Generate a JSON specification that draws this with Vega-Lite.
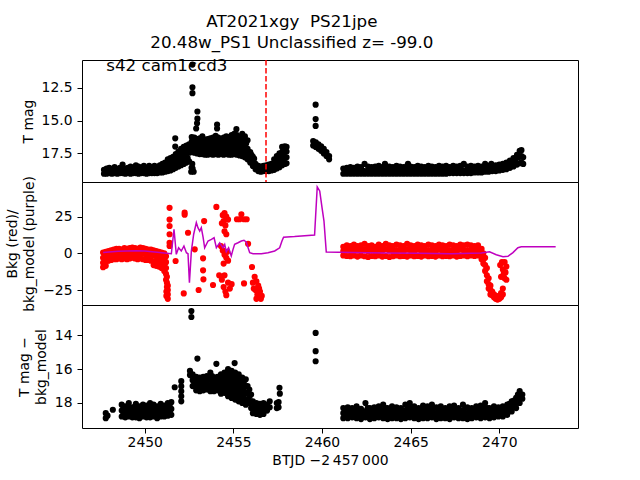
{
"$schema": "https://vega.github.io/schema/vega-lite/v6.json",
"background": "white",
"padding": {"left": 5, "top": 14, "right": 5, "bottom": 5},
"bounds": "flush",
"title": {"text": ["AT2021xgy\u00a0 PS21jpe", "20.48w_PS1 Unclassified z= -99.0"], "font": "DejaVu Sans", "fontSize": 16.7, "fontWeight": "normal", "color": "black", "anchor": "middle", "lineHeight": 20.5, "offset": 6},
"config": {
 "view": {"stroke": "black", "strokeWidth": 1},
 "font": "DejaVu Sans",
 "axis": {"labelFont": "DejaVu Sans", "labelFontSize": 13.9, "labelColor": "black", "titleFont": "DejaVu Sans", "titleFontSize": 13.9, "titleFontWeight": "normal", "titleColor": "black", "tickColor": "black", "tickSize": 5, "domain": false, "grid": false, "labelPadding": 5, "titlePadding": 5, "titleLineHeight": 17}
},
"spacing": 0,
"datasets": {
"top": [
{"t":2447.70,"m":19.05},{"t":2447.70,"m":18.75},{"t":2447.85,"m":19.05},{"t":2447.85,"m":18.65},{"t":2448.00,"m":19.00},{"t":2448.00,"m":18.60},{"t":2448.15,"m":19.05},{"t":2448.15,"m":18.70},{"t":2448.30,"m":19.00},{"t":2448.30,"m":18.55},{"t":2448.45,"m":19.05},{"t":2448.45,"m":18.70},{"t":2448.60,"m":19.00},{"t":2448.60,"m":18.60},{"t":2448.75,"m":19.00},{"t":2448.75,"m":18.35},{"t":2448.90,"m":19.05},{"t":2448.90,"m":18.65},{"t":2449.05,"m":19.00},{"t":2449.05,"m":18.60},{"t":2449.20,"m":19.05},{"t":2449.20,"m":18.50},{"t":2449.35,"m":19.00},{"t":2449.35,"m":18.65},{"t":2449.50,"m":19.00},{"t":2449.50,"m":18.40},{"t":2449.65,"m":19.05},{"t":2449.65,"m":18.50},{"t":2449.80,"m":19.00},{"t":2449.80,"m":18.60},{"t":2449.95,"m":19.00},{"t":2449.95,"m":18.45},{"t":2450.10,"m":19.05},{"t":2450.10,"m":18.60},{"t":2450.25,"m":19.00},{"t":2450.25,"m":18.45},{"t":2450.40,"m":19.00},{"t":2450.40,"m":18.60},{"t":2450.55,"m":19.00},{"t":2450.55,"m":18.45},{"t":2450.70,"m":19.00},{"t":2450.70,"m":18.55},{"t":2450.85,"m":18.95},{"t":2450.85,"m":18.40},{"t":2451.00,"m":18.95},{"t":2451.00,"m":18.30},{"t":2451.15,"m":18.90},{"t":2451.15,"m":18.20},{"t":2451.30,"m":18.85},{"t":2451.30,"m":18.35},{"t":2451.30,"m":17.95},
{"t":2447.78,"m":18.85},{"t":2447.93,"m":18.82},{"t":2448.08,"m":18.8},{"t":2448.23,"m":18.82},{"t":2448.38,"m":18.78},{"t":2448.53,"m":18.85},{"t":2448.68,"m":18.8},{"t":2448.83,"m":18.75},{"t":2448.98,"m":18.82},{"t":2449.13,"m":18.8},{"t":2449.28,"m":18.78},{"t":2449.43,"m":18.82},{"t":2449.58,"m":18.72},{"t":2449.73,"m":18.78},{"t":2449.88,"m":18.8},{"t":2450.03,"m":18.75},{"t":2450.18,"m":18.82},{"t":2450.33,"m":18.75},{"t":2450.48,"m":18.8},{"t":2450.63,"m":18.75},{"t":2450.78,"m":18.78},{"t":2450.93,"m":18.7},{"t":2451.08,"m":18.62},{"t":2451.23,"m":18.55},
{"t":2451.45,"m":18.80},{"t":2451.45,"m":18.30},{"t":2451.45,"m":17.85},{"t":2451.60,"m":18.70},{"t":2451.60,"m":18.20},{"t":2451.60,"m":17.75},{"t":2451.72,"m":16.35},{"t":2451.72,"m":16.98},{"t":2451.75,"m":18.60},{"t":2451.75,"m":18.05},{"t":2451.75,"m":17.55},{"t":2451.90,"m":18.50},{"t":2451.90,"m":17.90},{"t":2451.90,"m":17.35},{"t":2452.05,"m":18.40},{"t":2452.05,"m":17.75},{"t":2452.05,"m":17.15},{"t":2452.20,"m":18.30},{"t":2452.20,"m":17.65},{"t":2452.20,"m":17.00},{"t":2452.35,"m":18.20},{"t":2452.35,"m":17.55},{"t":2452.35,"m":16.90},{"t":2452.50,"m":18.10},{"t":2452.50,"m":17.45},{"t":2452.50,"m":16.80},
{"t":2451.52,"m":18.55},{"t":2451.67,"m":18.45},{"t":2451.82,"m":18.3},{"t":2451.82,"m":17.8},{"t":2451.97,"m":18.2},{"t":2451.97,"m":17.6},{"t":2452.12,"m":18.05},{"t":2452.12,"m":17.45},{"t":2452.27,"m":17.95},{"t":2452.27,"m":17.3},{"t":2452.42,"m":17.85},{"t":2452.42,"m":17.2},
{"t":2452.62,"m":18.90},{"t":2452.68,"m":18.30},{"t":2452.70,"m":18.65},{"t":2452.76,"m":18.90},{"t":2452.64,"m":18.60},
{"t":2452.69,"m":10.72},{"t":2452.69,"m":12.45},{"t":2452.69,"m":12.90},{"t":2452.97,"m":14.30},{"t":2452.97,"m":14.85},{"t":2452.95,"m":15.20},{"t":2452.90,"m":15.60},
{"t":2452.65,"m":17.40},{"t":2452.65,"m":17.00},{"t":2452.65,"m":16.60},{"t":2452.65,"m":16.25},
{"t":2452.80,"m":17.45},{"t":2452.80,"m":17.05},{"t":2452.80,"m":16.65},{"t":2452.80,"m":16.30},
{"t":2452.95,"m":17.50},{"t":2452.95,"m":17.10},{"t":2452.95,"m":16.70},{"t":2452.95,"m":16.40},
{"t":2453.10,"m":17.55},{"t":2453.10,"m":17.15},{"t":2453.10,"m":16.75},{"t":2453.10,"m":16.35},
{"t":2453.25,"m":17.55},{"t":2453.25,"m":17.15},{"t":2453.25,"m":16.75},{"t":2453.25,"m":16.20},
{"t":2453.40,"m":17.60},{"t":2453.40,"m":17.20},{"t":2453.40,"m":16.80},{"t":2453.40,"m":16.45},
{"t":2453.55,"m":17.60},{"t":2453.55,"m":17.20},{"t":2453.55,"m":16.80},{"t":2453.55,"m":16.40},
{"t":2453.70,"m":17.55},{"t":2453.70,"m":17.15},{"t":2453.70,"m":16.75},{"t":2453.70,"m":16.35},
{"t":2453.85,"m":17.60},{"t":2453.85,"m":17.20},{"t":2453.85,"m":16.80},{"t":2453.85,"m":16.30},
{"t":2454.00,"m":17.55},{"t":2454.00,"m":17.15},{"t":2454.00,"m":16.75},{"t":2454.00,"m":16.15},
{"t":2454.08,"m":15.30},{"t":2454.08,"m":15.60},
{"t":2454.15,"m":17.60},{"t":2454.15,"m":17.20},{"t":2454.15,"m":16.80},{"t":2454.15,"m":16.30},
{"t":2454.30,"m":17.55},{"t":2454.30,"m":17.15},{"t":2454.30,"m":16.75},{"t":2454.30,"m":16.40},
{"t":2454.45,"m":17.60},{"t":2454.45,"m":17.20},{"t":2454.45,"m":16.80},{"t":2454.45,"m":16.30},
{"t":2454.60,"m":17.55},{"t":2454.60,"m":17.15},{"t":2454.60,"m":16.75},{"t":2454.60,"m":16.20},
{"t":2454.75,"m":17.60},{"t":2454.75,"m":17.20},{"t":2454.75,"m":16.80},{"t":2454.75,"m":16.25},
{"t":2454.90,"m":17.60},{"t":2454.90,"m":17.20},{"t":2454.90,"m":16.80},{"t":2454.90,"m":16.10},
{"t":2455.05,"m":17.55},{"t":2455.05,"m":17.15},{"t":2455.05,"m":16.75},{"t":2455.05,"m":16.00},
{"t":2455.17,"m":15.65},
{"t":2455.20,"m":17.60},{"t":2455.20,"m":17.20},{"t":2455.20,"m":16.80},{"t":2455.20,"m":16.10},
{"t":2455.35,"m":17.65},{"t":2455.35,"m":17.25},{"t":2455.35,"m":16.85},{"t":2455.35,"m":16.25},
{"t":2455.50,"m":17.70},{"t":2455.50,"m":17.30},{"t":2455.50,"m":16.90},{"t":2455.50,"m":16.00},
{"t":2455.65,"m":17.80},{"t":2455.65,"m":17.40},{"t":2455.65,"m":17.00},{"t":2455.65,"m":16.20},
{"t":2455.80,"m":17.95},{"t":2455.80,"m":17.55},{"t":2455.80,"m":17.15},{"t":2455.80,"m":16.50},
{"t":2452.72,"m":17.2},{"t":2452.72,"m":16.8},{"t":2452.72,"m":16.45},{"t":2452.87,"m":17.25},{"t":2452.87,"m":16.85},{"t":2452.87,"m":16.5},{"t":2453.02,"m":17.3},{"t":2453.02,"m":16.9},{"t":2453.02,"m":16.55},{"t":2453.17,"m":17.35},{"t":2453.17,"m":16.95},{"t":2453.17,"m":16.55},{"t":2453.32,"m":17.35},{"t":2453.32,"m":16.95},{"t":2453.32,"m":16.5},{"t":2453.47,"m":17.4},{"t":2453.47,"m":17.0},{"t":2453.47,"m":16.6},{"t":2453.62,"m":17.4},{"t":2453.62,"m":17.0},{"t":2453.62,"m":16.6},{"t":2453.77,"m":17.35},{"t":2453.77,"m":16.95},{"t":2453.77,"m":16.55},{"t":2453.92,"m":17.4},{"t":2453.92,"m":17.0},{"t":2453.92,"m":16.55},{"t":2454.07,"m":17.35},{"t":2454.07,"m":16.95},{"t":2454.07,"m":16.45},{"t":2454.22,"m":17.4},{"t":2454.22,"m":17.0},{"t":2454.22,"m":16.55},{"t":2454.37,"m":17.35},{"t":2454.37,"m":16.95},{"t":2454.37,"m":16.55},{"t":2454.52,"m":17.4},{"t":2454.52,"m":17.0},{"t":2454.52,"m":16.55},{"t":2454.67,"m":17.35},{"t":2454.67,"m":16.95},{"t":2454.67,"m":16.45},{"t":2454.82,"m":17.4},{"t":2454.82,"m":17.0},{"t":2454.82,"m":16.5},{"t":2454.97,"m":17.4},{"t":2454.97,"m":17.0},{"t":2454.97,"m":16.4},{"t":2455.12,"m":17.35},{"t":2455.12,"m":16.95},{"t":2455.12,"m":16.4},{"t":2455.27,"m":17.4},{"t":2455.27,"m":17.0},{"t":2455.27,"m":16.5},{"t":2455.42,"m":17.45},{"t":2455.42,"m":17.05},{"t":2455.42,"m":16.5},{"t":2455.57,"m":17.55},{"t":2455.57,"m":17.15},{"t":2455.57,"m":16.6},{"t":2455.72,"m":17.7},{"t":2455.72,"m":17.3},{"t":2455.72,"m":16.75},{"t":2455.87,"m":17.95},{"t":2455.87,"m":17.6},
{"t":2455.95,"m":18.20},{"t":2455.95,"m":17.80},{"t":2455.95,"m":17.40},
{"t":2456.10,"m":18.45},{"t":2456.10,"m":18.05},{"t":2456.10,"m":17.75},
{"t":2456.25,"m":18.70},{"t":2456.25,"m":18.30},{"t":2456.40,"m":18.85},{"t":2456.40,"m":18.45},{"t":2456.55,"m":18.90},{"t":2456.55,"m":18.50},{"t":2456.70,"m":18.85},{"t":2456.70,"m":18.45},{"t":2456.85,"m":18.85},{"t":2456.85,"m":18.40},{"t":2457.00,"m":18.85},{"t":2457.00,"m":18.35},{"t":2457.15,"m":18.80},{"t":2457.15,"m":18.30},
{"t":2456.02,"m":18.0},{"t":2456.02,"m":17.6},{"t":2456.17,"m":18.25},{"t":2456.17,"m":17.9},{"t":2456.32,"m":18.5},{"t":2456.47,"m":18.65},{"t":2456.62,"m":18.7},{"t":2456.77,"m":18.65},{"t":2456.92,"m":18.62},{"t":2457.07,"m":18.6},{"t":2457.22,"m":18.55},
{"t":2457.30,"m":18.75},{"t":2457.30,"m":18.25},{"t":2457.30,"m":17.95},{"t":2457.45,"m":18.65},{"t":2457.45,"m":18.15},{"t":2457.45,"m":17.70},{"t":2457.60,"m":18.55},{"t":2457.60,"m":18.05},{"t":2457.60,"m":17.50},{"t":2457.75,"m":18.40},{"t":2457.75,"m":17.90},{"t":2457.75,"m":17.40},{"t":2457.75,"m":17.00},{"t":2457.90,"m":18.30},{"t":2457.90,"m":17.85},{"t":2457.90,"m":17.40},{"t":2457.90,"m":16.95},{"t":2458.00,"m":18.25},{"t":2458.00,"m":17.80},{"t":2458.00,"m":17.35},{"t":2458.00,"m":17.00},
{"t":2457.37,"m":18.5},{"t":2457.52,"m":18.4},{"t":2457.52,"m":17.9},{"t":2457.67,"m":18.3},{"t":2457.67,"m":17.75},{"t":2457.82,"m":18.15},{"t":2457.82,"m":17.65},{"t":2457.82,"m":17.2},
{"t":2459.64,"m":13.78},{"t":2459.64,"m":14.88},{"t":2459.64,"m":15.40},
{"t":2459.50,"m":16.55},{"t":2459.50,"m":16.90},{"t":2459.65,"m":16.65},{"t":2459.65,"m":17.00},{"t":2459.80,"m":16.80},{"t":2459.80,"m":17.15},{"t":2459.95,"m":16.95},{"t":2459.95,"m":17.30},{"t":2460.10,"m":17.15},{"t":2460.10,"m":17.50},{"t":2460.25,"m":17.40},{"t":2460.25,"m":17.70},{"t":2460.40,"m":17.70},{"t":2460.40,"m":17.95},
{"t":2461.2,"m":19.05},{"t":2461.2,"m":18.65},{"t":2461.4,"m":19.05},{"t":2461.4,"m":18.60},{"t":2461.6,"m":19.05},{"t":2461.6,"m":18.55},{"t":2461.8,"m":19.05},{"t":2461.8,"m":18.60},{"t":2462.0,"m":19.05},{"t":2462.0,"m":18.50},{"t":2462.2,"m":19.05},{"t":2462.2,"m":18.55},{"t":2462.4,"m":19.05},{"t":2462.4,"m":18.30},{"t":2462.6,"m":19.05},{"t":2462.6,"m":18.50},{"t":2462.8,"m":19.05},{"t":2462.8,"m":18.55},{"t":2463.0,"m":19.05},{"t":2463.0,"m":18.50},{"t":2463.2,"m":19.05},{"t":2463.2,"m":18.45},{"t":2463.4,"m":19.05},{"t":2463.4,"m":18.55},{"t":2463.55,"m":18.30},{"t":2463.6,"m":19.05},{"t":2463.6,"m":18.45},{"t":2463.8,"m":19.05},{"t":2463.8,"m":18.50},{"t":2464.0,"m":19.05},{"t":2464.0,"m":18.55},{"t":2464.2,"m":19.05},{"t":2464.2,"m":18.45},{"t":2464.4,"m":19.05},{"t":2464.4,"m":18.50},{"t":2464.6,"m":19.05},{"t":2464.6,"m":18.55},{"t":2464.8,"m":19.05},{"t":2464.8,"m":18.45},{"t":2464.85,"m":18.30},{"t":2465.0,"m":19.05},{"t":2465.0,"m":18.50},{"t":2465.2,"m":19.05},{"t":2465.2,"m":18.55},{"t":2465.4,"m":19.05},{"t":2465.4,"m":18.45},{"t":2465.6,"m":19.05},{"t":2465.6,"m":18.50},{"t":2465.8,"m":19.05},{"t":2465.8,"m":18.55},{"t":2466.0,"m":19.05},{"t":2466.0,"m":18.45},{"t":2466.2,"m":19.05},{"t":2466.2,"m":18.50},{"t":2466.4,"m":19.05},{"t":2466.4,"m":18.55},{"t":2466.6,"m":19.05},{"t":2466.6,"m":18.45},{"t":2466.8,"m":19.05},{"t":2466.8,"m":18.50},{"t":2467.0,"m":19.05},{"t":2467.0,"m":18.45},{"t":2467.2,"m":19.00},{"t":2467.2,"m":18.55},{"t":2467.4,"m":19.00},{"t":2467.4,"m":18.45},{"t":2467.6,"m":19.00},{"t":2467.6,"m":18.50},{"t":2467.8,"m":19.00},{"t":2467.8,"m":18.45},{"t":2468.0,"m":19.00},{"t":2468.0,"m":18.30},{"t":2468.2,"m":19.00},{"t":2468.2,"m":18.50},{"t":2468.4,"m":19.00},{"t":2468.4,"m":18.45},{"t":2468.6,"m":18.95},{"t":2468.6,"m":18.50},{"t":2468.8,"m":18.95},{"t":2468.8,"m":18.45},{"t":2469.0,"m":18.95},{"t":2469.0,"m":18.50},{"t":2469.2,"m":18.90},{"t":2469.2,"m":18.30},{"t":2469.4,"m":18.90},{"t":2469.4,"m":18.45},{"t":2469.55,"m":18.30},{"t":2469.6,"m":18.85},{"t":2469.6,"m":18.45},{"t":2469.8,"m":18.85},{"t":2469.8,"m":18.40},{"t":2470.0,"m":18.80},{"t":2470.0,"m":18.35},{"t":2470.2,"m":18.75},{"t":2470.2,"m":18.30},{"t":2470.4,"m":18.70},{"t":2470.4,"m":18.20},{"t":2470.6,"m":18.60},{"t":2470.6,"m":18.05},{"t":2470.8,"m":18.50},{"t":2470.8,"m":17.85},{"t":2471.0,"m":18.35},{"t":2471.0,"m":17.60},{"t":2471.15,"m":18.25},{"t":2471.15,"m":17.30},{"t":2471.25,"m":18.20},{"t":2471.25,"m":17.25},{"t":2471.25,"m":17.70},{"t":2471.35,"m":18.30},{"t":2471.35,"m":17.80},
{"t":2461.3,"m":18.85},{"t":2461.5,"m":18.8},{"t":2461.7,"m":18.85},{"t":2461.9,"m":18.8},{"t":2462.1,"m":18.85},{"t":2462.3,"m":18.8},{"t":2462.5,"m":18.85},{"t":2462.7,"m":18.8},{"t":2462.9,"m":18.85},{"t":2463.1,"m":18.8},{"t":2463.3,"m":18.85},{"t":2463.5,"m":18.8},{"t":2463.7,"m":18.85},{"t":2463.9,"m":18.8},{"t":2464.1,"m":18.85},{"t":2464.3,"m":18.8},{"t":2464.5,"m":18.85},{"t":2464.7,"m":18.8},{"t":2464.9,"m":18.85},{"t":2465.1,"m":18.8},{"t":2465.3,"m":18.85},{"t":2465.5,"m":18.8},{"t":2465.7,"m":18.85},{"t":2465.9,"m":18.8},{"t":2466.1,"m":18.85},{"t":2466.3,"m":18.8},{"t":2466.5,"m":18.85},{"t":2466.7,"m":18.8},{"t":2466.9,"m":18.85},{"t":2467.1,"m":18.8},{"t":2467.3,"m":18.8},{"t":2467.5,"m":18.75},{"t":2467.7,"m":18.8},{"t":2467.9,"m":18.75},{"t":2468.1,"m":18.8},{"t":2468.3,"m":18.75},{"t":2468.5,"m":18.75},{"t":2468.7,"m":18.7},{"t":2468.9,"m":18.75},{"t":2469.1,"m":18.7},{"t":2469.3,"m":18.7},{"t":2469.5,"m":18.65},{"t":2469.7,"m":18.65},{"t":2469.9,"m":18.6},{"t":2470.1,"m":18.55},{"t":2470.3,"m":18.5},{"t":2470.5,"m":18.4},{"t":2470.7,"m":18.25},{"t":2470.9,"m":18.05},{"t":2471.1,"m":17.8}
],
"bkg": [
{"t":2447.65,"b":0.5},{"t":2447.65,"b":-3},{"t":2447.65,"b":-6.5},{"t":2447.65,"b":-9.5},
{"t":2447.8,"b":1.0},{"t":2447.8,"b":-2.5},{"t":2447.8,"b":-6},{"t":2447.8,"b":-8.5},
{"t":2447.95,"b":1.5},{"t":2447.95,"b":-2},{"t":2447.95,"b":-5},
{"t":2448.1,"b":2.0},{"t":2448.1,"b":-1.5},{"t":2448.1,"b":-4.5},
{"t":2448.25,"b":2.5},{"t":2448.25,"b":-1},{"t":2448.25,"b":-4},
{"t":2448.4,"b":3.0},{"t":2448.4,"b":-0.5},{"t":2448.4,"b":-4},
{"t":2448.55,"b":3.0},{"t":2448.55,"b":-0.5},{"t":2448.55,"b":-3.5},
{"t":2448.7,"b":2.5},{"t":2448.7,"b":-1},{"t":2448.7,"b":-4},
{"t":2448.85,"b":3.5},{"t":2448.85,"b":0},{"t":2448.85,"b":-3.5},
{"t":2449.0,"b":3.0},{"t":2449.0,"b":-0.5},{"t":2449.0,"b":-4},
{"t":2449.15,"b":3.5},{"t":2449.15,"b":0},{"t":2449.15,"b":-3.5},
{"t":2449.3,"b":4.0},{"t":2449.3,"b":0.5},{"t":2449.3,"b":-3},
{"t":2449.45,"b":3.5},{"t":2449.45,"b":0},{"t":2449.45,"b":-3.5},
{"t":2449.6,"b":3.0},{"t":2449.6,"b":-0.5},{"t":2449.6,"b":-4},
{"t":2449.75,"b":4.0},{"t":2449.75,"b":0},{"t":2449.75,"b":-3.5},
{"t":2449.9,"b":3.5},{"t":2449.9,"b":0},{"t":2449.9,"b":-4},
{"t":2450.05,"b":3.0},{"t":2450.05,"b":-0.5},{"t":2450.05,"b":-4.5},
{"t":2450.2,"b":2.5},{"t":2450.2,"b":-1},{"t":2450.2,"b":-4.5},
{"t":2450.35,"b":2.5},{"t":2450.35,"b":-1},{"t":2450.35,"b":-5},
{"t":2450.5,"b":2.0},{"t":2450.5,"b":-1.5},{"t":2450.5,"b":-5.5},{"t":2450.5,"b":-8},
{"t":2450.65,"b":1.5},{"t":2450.65,"b":-2},{"t":2450.65,"b":-5.5},{"t":2450.65,"b":-8.5},
{"t":2450.8,"b":1.0},{"t":2450.8,"b":-2.5},{"t":2450.8,"b":-6},{"t":2450.8,"b":-9},
{"t":2450.95,"b":0.5},{"t":2450.95,"b":-3},{"t":2450.95,"b":-6.5},{"t":2450.95,"b":-10},
{"t":2451.1,"b":0},{"t":2451.1,"b":-4},{"t":2451.1,"b":-8},{"t":2451.1,"b":-12},
{"t":2451.2,"b":-2},{"t":2451.2,"b":-6},{"t":2451.2,"b":-10},{"t":2451.2,"b":-14},{"t":2451.2,"b":-18},
{"t":2451.25,"b":-16},{"t":2451.25,"b":-20},{"t":2451.25,"b":-23},
{"t":2451.3,"b":-22},{"t":2451.3,"b":-25},{"t":2451.3,"b":-28},{"t":2451.3,"b":-31},
{"t":2451.22,"b":-26},{"t":2451.22,"b":-29},
{"t":2451.4,"b":31},{"t":2451.4,"b":23},{"t":2451.4,"b":18.6},{"t":2451.4,"b":13},{"t":2451.4,"b":7.2},{"t":2451.4,"b":5},
{"t":2451.74,"b":-5.2},
{"t":2452.25,"b":27.7},{"t":2452.25,"b":26.3},{"t":2452.2,"b":-27.3},
{"t":2452.44,"b":14},{"t":2452.82,"b":2.7},
{"t":2453.29,"b":-3.4},{"t":2453.29,"b":-11.6},{"t":2453.31,"b":-17.7},
{"t":2453.35,"b":22},{"t":2453.04,"b":-25},{"t":2453.85,"b":-21.6},{"t":2454.04,"b":31.6},
{"t":2454.4,"b":26},{"t":2454.5,"b":27.5},{"t":2454.6,"b":25},{"t":2454.45,"b":22},{"t":2454.7,"b":23},{"t":2454.55,"b":19},{"t":2454.35,"b":20.5},{"t":2454.5,"b":15},{"t":2454.6,"b":13},
{"t":2454.3,"b":5},{"t":2454.4,"b":2},{"t":2454.5,"b":-1},{"t":2454.6,"b":-3},{"t":2454.7,"b":-5},{"t":2454.45,"b":-7},{"t":2454.65,"b":1},
{"t":2454.2,"b":-15},{"t":2454.35,"b":-18},{"t":2454.45,"b":-23},{"t":2454.55,"b":-26},{"t":2454.6,"b":-28.5},{"t":2454.7,"b":-20},{"t":2454.8,"b":-24},{"t":2454.5,"b":-15},{"t":2454.9,"b":-21},
{"t":2455.2,"b":23.2},{"t":2455.35,"b":23.2},{"t":2455.6,"b":23.2},{"t":2455.75,"b":23.2},{"t":2455.45,"b":26.6},
{"t":2455.83,"b":6.5},{"t":2456.05,"b":-9.3},{"t":2455.6,"b":-20.5},
{"t":2456.2,"b":-16},{"t":2456.3,"b":-19},{"t":2456.4,"b":-22},{"t":2456.25,"b":-25},{"t":2456.35,"b":-28},{"t":2456.45,"b":-30},{"t":2456.5,"b":-26},{"t":2456.55,"b":-31},{"t":2456.1,"b":-20},{"t":2456.15,"b":-24},{"t":2456.6,"b":-29},{"t":2456.3,"b":-31},{"t":2456.45,"b":-24},
{"t":2461.2,"b":4.5},{"t":2461.2,"b":1.5},{"t":2461.2,"b":-1.5},
{"t":2461.4,"b":5.5},{"t":2461.4,"b":2.0},{"t":2461.4,"b":-1.8},
{"t":2461.6,"b":5.0},{"t":2461.6,"b":1.5},{"t":2461.6,"b":-2.0},
{"t":2461.8,"b":6.0},{"t":2461.8,"b":2.5},{"t":2461.8,"b":-1.5},
{"t":2462.0,"b":5.0},{"t":2462.0,"b":1.8},{"t":2462.0,"b":-2.2},
{"t":2462.2,"b":5.5},{"t":2462.2,"b":2.0},{"t":2462.2,"b":-1.5},
{"t":2462.4,"b":6.5},{"t":2462.4,"b":2.5},{"t":2462.4,"b":-2.0},
{"t":2462.6,"b":5.0},{"t":2462.6,"b":1.5},{"t":2462.6,"b":-2.5},
{"t":2462.8,"b":5.5},{"t":2462.8,"b":2.0},{"t":2462.8,"b":-1.8},
{"t":2463.0,"b":4.5},{"t":2463.0,"b":1.2},{"t":2463.0,"b":-2.0},
{"t":2463.2,"b":6.0},{"t":2463.2,"b":2.5},{"t":2463.2,"b":-1.5},
{"t":2463.4,"b":5.0},{"t":2463.4,"b":1.8},{"t":2463.4,"b":-2.2},
{"t":2463.6,"b":6.5},{"t":2463.6,"b":2.8},{"t":2463.6,"b":-1.8},
{"t":2463.8,"b":5.5},{"t":2463.8,"b":2.0},{"t":2463.8,"b":-2.5},
{"t":2464.0,"b":5.0},{"t":2464.0,"b":1.5},{"t":2464.0,"b":-2.0},
{"t":2464.2,"b":6.0},{"t":2464.2,"b":2.2},{"t":2464.2,"b":-1.5},
{"t":2464.4,"b":5.5},{"t":2464.4,"b":2.0},{"t":2464.4,"b":-2.0},
{"t":2464.6,"b":5.0},{"t":2464.6,"b":1.5},{"t":2464.6,"b":-1.8},
{"t":2464.8,"b":6.5},{"t":2464.8,"b":2.5},{"t":2464.8,"b":-2.2},
{"t":2465.0,"b":5.5},{"t":2465.0,"b":2.0},{"t":2465.0,"b":-1.5},
{"t":2465.2,"b":5.0},{"t":2465.2,"b":1.5},{"t":2465.2,"b":-2.0},
{"t":2465.4,"b":6.0},{"t":2465.4,"b":2.5},{"t":2465.4,"b":-1.8},
{"t":2465.6,"b":5.5},{"t":2465.6,"b":2.0},{"t":2465.6,"b":-2.2},
{"t":2465.8,"b":5.0},{"t":2465.8,"b":1.8},{"t":2465.8,"b":-1.5},
{"t":2466.0,"b":6.0},{"t":2466.0,"b":2.2},{"t":2466.0,"b":-2.0},
{"t":2466.2,"b":5.5},{"t":2466.2,"b":2.0},{"t":2466.2,"b":-1.8},
{"t":2466.4,"b":5.0},{"t":2466.4,"b":1.5},{"t":2466.4,"b":-2.2},
{"t":2466.6,"b":6.0},{"t":2466.6,"b":2.5},{"t":2466.6,"b":-1.5},
{"t":2466.8,"b":5.5},{"t":2466.8,"b":1.8},{"t":2466.8,"b":-2.0},
{"t":2467.0,"b":5.0},{"t":2467.0,"b":1.5},{"t":2467.0,"b":-1.8},
{"t":2467.2,"b":6.0},{"t":2467.2,"b":2.2},{"t":2467.2,"b":-2.0},
{"t":2467.4,"b":5.5},{"t":2467.4,"b":2.0},{"t":2467.4,"b":-1.5},
{"t":2467.6,"b":5.0},{"t":2467.6,"b":1.5},{"t":2467.6,"b":-2.2},
{"t":2467.8,"b":6.0},{"t":2467.8,"b":2.5},{"t":2467.8,"b":-1.8},
{"t":2468.0,"b":5.5},{"t":2468.0,"b":2.0},{"t":2468.0,"b":-1.5},
{"t":2468.2,"b":6.0},{"t":2468.2,"b":2.2},{"t":2468.2,"b":-2.0},
{"t":2468.4,"b":5.5},{"t":2468.4,"b":1.8},{"t":2468.4,"b":-1.5},
{"t":2468.6,"b":5.0},{"t":2468.6,"b":1.5},{"t":2468.6,"b":-1.8},
{"t":2468.8,"b":5.5},{"t":2468.8,"b":2.0},{"t":2468.8,"b":-1.5},
{"t":2469.0,"b":3},{"t":2469.0,"b":-1},{"t":2469.0,"b":-4},
{"t":2469.1,"b":0},{"t":2469.1,"b":-4},{"t":2469.1,"b":-7},
{"t":2469.2,"b":-3},{"t":2469.2,"b":-8},{"t":2469.2,"b":-12},
{"t":2469.3,"b":-10},{"t":2469.3,"b":-15},{"t":2469.3,"b":-19},
{"t":2469.4,"b":-17},{"t":2469.4,"b":-21},{"t":2469.4,"b":-24},
{"t":2469.5,"b":-22},{"t":2469.5,"b":-25},{"t":2469.5,"b":-28},
{"t":2469.6,"b":-26},{"t":2469.6,"b":-28.5},
{"t":2469.7,"b":-28},{"t":2469.7,"b":-30},
{"t":2469.8,"b":-29},{"t":2469.8,"b":-31},
{"t":2469.9,"b":-30},{"t":2469.9,"b":-31.5},
{"t":2470.0,"b":-29},{"t":2470.0,"b":-31},
{"t":2470.1,"b":-27},{"t":2470.1,"b":-30},
{"t":2470.2,"b":-24},{"t":2470.2,"b":-28},
{"t":2470.05,"b":-8},{"t":2470.15,"b":-6},{"t":2470.2,"b":-11},{"t":2470.25,"b":-14},{"t":2470.3,"b":-17},{"t":2470.35,"b":-13},{"t":2470.4,"b":-9},{"t":2470.1,"b":-16},{"t":2470.3,"b":-6},{"t":2470.4,"b":-18}
],
"model": [
{"t":2447.65,"v":0.5},{"t":2448.5,"v":1.5},{"t":2449.5,"v":1.8},{"t":2450.0,"v":1.6},{"t":2450.7,"v":0.8},{"t":2451.5,"v":-0.3},
{"t":2451.65,"v":16.4},{"t":2451.78,"v":-0.7},{"t":2451.91,"v":3.8},{"t":2452.06,"v":1.6},{"t":2452.21,"v":5.0},{"t":2452.35,"v":0.4},{"t":2452.44,"v":-0.3},{"t":2452.52,"v":-20},{"t":2452.63,"v":1.6},{"t":2452.76,"v":13},{"t":2452.91,"v":20.9},{"t":2453.0,"v":17.5},{"t":2453.1,"v":15.2},{"t":2453.19,"v":17.5},{"t":2453.29,"v":11},{"t":2453.38,"v":3.8},{"t":2453.57,"v":8.4},{"t":2453.76,"v":9.5},{"t":2453.91,"v":10.6},{"t":2454.04,"v":3.8},{"t":2454.23,"v":7.2},{"t":2454.41,"v":3.8},{"t":2454.51,"v":6.1},{"t":2454.6,"v":1.1},{"t":2454.73,"v":3.8},{"t":2454.88,"v":-1.8},{"t":2454.98,"v":2.7},{"t":2455.07,"v":6.1},{"t":2455.26,"v":7.2},{"t":2455.45,"v":8.4},{"t":2455.6,"v":8.9},{"t":2455.73,"v":7.6},{"t":2455.83,"v":3.8},{"t":2455.92,"v":0.4},{"t":2456.11,"v":-0.3},{"t":2456.58,"v":-0.3},{"t":2456.95,"v":0.4},{"t":2457.33,"v":1.6},{"t":2457.61,"v":3.8},{"t":2457.74,"v":8.4},{"t":2457.83,"v":11},{"t":2458.45,"v":11.4},{"t":2459.58,"v":12.5},
{"t":2459.73,"v":45.2},{"t":2459.87,"v":42.5},{"t":2460.0,"v":31.1},{"t":2460.11,"v":22},{"t":2460.24,"v":0.9},
{"t":2461.65,"v":0.5},{"t":2463.53,"v":0.2},{"t":2465.41,"v":0.0},{"t":2467.29,"v":-0.3},{"t":2468.98,"v":0.2},{"t":2469.45,"v":1.0},{"t":2469.83,"v":-1.0},{"t":2470.21,"v":-2.3},{"t":2470.49,"v":-2.0},{"t":2470.77,"v":0.5},{"t":2471.05,"v":3.8},{"t":2471.24,"v":4.5},{"t":2473.18,"v":4.5}
],
"diff": [
{"t":2447.8,"d":18.6},{"t":2447.8,"d":18.9},{"t":2447.9,"d":18.75},{"t":2448.2,"d":18.4},
{"t":2448.7,"d":18.1},{"t":2448.7,"d":18.45},{"t":2448.7,"d":18.8},
{"t":2448.9,"d":18.2},{"t":2448.9,"d":18.5},{"t":2448.9,"d":18.85},
{"t":2449.1,"d":18.0},{"t":2449.1,"d":18.4},{"t":2449.1,"d":18.8},
{"t":2449.3,"d":18.25},{"t":2449.3,"d":18.55},{"t":2449.3,"d":18.85},
{"t":2449.5,"d":18.05},{"t":2449.5,"d":18.45},{"t":2449.5,"d":18.85},
{"t":2449.7,"d":18.2},{"t":2449.7,"d":18.5},{"t":2449.7,"d":18.9},
{"t":2449.9,"d":18.1},{"t":2449.9,"d":18.45},{"t":2449.9,"d":18.8},
{"t":2450.1,"d":18.15},{"t":2450.1,"d":18.5},{"t":2450.1,"d":18.85},
{"t":2450.3,"d":18.0},{"t":2450.3,"d":18.4},{"t":2450.3,"d":18.85},
{"t":2450.5,"d":18.1},{"t":2450.5,"d":18.45},{"t":2450.5,"d":18.8},
{"t":2450.7,"d":18.2},{"t":2450.7,"d":18.5},{"t":2450.7,"d":18.9},
{"t":2450.9,"d":18.05},{"t":2450.9,"d":18.4},{"t":2450.9,"d":18.8},
{"t":2451.1,"d":18.15},{"t":2451.1,"d":18.45},{"t":2451.1,"d":18.8},
{"t":2451.3,"d":18.0},{"t":2451.3,"d":18.4},{"t":2451.3,"d":18.75},
{"t":2451.5,"d":17.95},{"t":2451.5,"d":18.35},{"t":2451.5,"d":18.7},
{"t":2448.8,"d":18.3},{"t":2448.8,"d":18.65},{"t":2449.0,"d":18.25},{"t":2449.0,"d":18.6},{"t":2449.2,"d":18.3},{"t":2449.2,"d":18.7},{"t":2449.4,"d":18.25},{"t":2449.4,"d":18.65},{"t":2449.6,"d":18.3},{"t":2449.6,"d":18.7},{"t":2449.8,"d":18.3},{"t":2449.8,"d":18.65},{"t":2450.0,"d":18.3},{"t":2450.0,"d":18.7},{"t":2450.2,"d":18.25},{"t":2450.2,"d":18.65},{"t":2450.4,"d":18.25},{"t":2450.4,"d":18.65},{"t":2450.6,"d":18.3},{"t":2450.6,"d":18.65},{"t":2450.8,"d":18.25},{"t":2450.8,"d":18.65},{"t":2451.0,"d":18.3},{"t":2451.0,"d":18.65},{"t":2451.2,"d":18.2},{"t":2451.2,"d":18.6},{"t":2451.4,"d":18.15},{"t":2451.4,"d":18.55},
{"t":2451.69,"d":17.07},
{"t":2452.06,"d":16.71},{"t":2452.06,"d":17.01},{"t":2452.06,"d":17.31},{"t":2452.06,"d":17.6},{"t":2452.06,"d":17.9},
{"t":2452.63,"d":12.56},{"t":2452.63,"d":12.91},{"t":2452.97,"d":15.37},{"t":2454.04,"d":15.68},{"t":2455.07,"d":15.64},
{"t":2452.55,"d":16.1},{"t":2452.55,"d":16.35},
{"t":2452.7,"d":16.3},{"t":2452.7,"d":16.65},{"t":2452.7,"d":17.0},
{"t":2452.9,"d":16.45},{"t":2452.9,"d":16.85},{"t":2452.9,"d":17.25},
{"t":2453.1,"d":16.5},{"t":2453.1,"d":16.9},{"t":2453.1,"d":17.3},
{"t":2453.3,"d":16.45},{"t":2453.3,"d":16.85},{"t":2453.3,"d":17.25},
{"t":2453.5,"d":16.4},{"t":2453.5,"d":16.8},{"t":2453.5,"d":17.2},
{"t":2453.7,"d":16.2},{"t":2453.7,"d":16.6},{"t":2453.7,"d":17.0},{"t":2453.7,"d":17.3},
{"t":2453.9,"d":16.5},{"t":2453.9,"d":16.9},{"t":2453.9,"d":17.3},
{"t":2454.1,"d":16.45},{"t":2454.1,"d":16.85},{"t":2454.1,"d":17.25},
{"t":2454.3,"d":16.3},{"t":2454.3,"d":16.7},{"t":2454.3,"d":17.1},{"t":2454.3,"d":17.45},
{"t":2454.5,"d":16.2},{"t":2454.5,"d":16.6},{"t":2454.5,"d":17.0},{"t":2454.5,"d":17.4},
{"t":2454.7,"d":16.0},{"t":2454.7,"d":16.4},{"t":2454.7,"d":16.8},{"t":2454.7,"d":17.2},{"t":2454.7,"d":17.6},
{"t":2454.9,"d":16.1},{"t":2454.9,"d":16.5},{"t":2454.9,"d":16.9},{"t":2454.9,"d":17.3},{"t":2454.9,"d":17.7},
{"t":2455.1,"d":16.2},{"t":2455.1,"d":16.6},{"t":2455.1,"d":17.0},{"t":2455.1,"d":17.4},{"t":2455.1,"d":17.8},
{"t":2455.3,"d":16.3},{"t":2455.3,"d":16.7},{"t":2455.3,"d":17.1},{"t":2455.3,"d":17.5},{"t":2455.3,"d":17.9},
{"t":2455.5,"d":16.5},{"t":2455.5,"d":16.9},{"t":2455.5,"d":17.3},{"t":2455.5,"d":17.7},{"t":2455.5,"d":18.0},
{"t":2455.7,"d":16.6},{"t":2455.7,"d":17.0},{"t":2455.7,"d":17.4},{"t":2455.7,"d":17.8},{"t":2455.7,"d":18.1},
{"t":2455.9,"d":17.2},{"t":2455.9,"d":17.6},{"t":2455.9,"d":18.0},
{"t":2452.8,"d":16.5},{"t":2452.8,"d":16.85},{"t":2453.0,"d":16.65},{"t":2453.0,"d":17.05},{"t":2453.2,"d":16.7},{"t":2453.2,"d":17.1},{"t":2453.4,"d":16.65},{"t":2453.4,"d":17.05},{"t":2453.6,"d":16.6},{"t":2453.6,"d":17.0},{"t":2453.8,"d":16.4},{"t":2453.8,"d":16.8},{"t":2453.8,"d":17.15},{"t":2454.0,"d":16.7},{"t":2454.0,"d":17.1},{"t":2454.2,"d":16.65},{"t":2454.2,"d":17.05},{"t":2454.4,"d":16.5},{"t":2454.4,"d":16.9},{"t":2454.4,"d":17.25},{"t":2454.6,"d":16.4},{"t":2454.6,"d":16.8},{"t":2454.6,"d":17.2},{"t":2454.8,"d":16.2},{"t":2454.8,"d":16.6},{"t":2454.8,"d":17.0},{"t":2454.8,"d":17.4},{"t":2455.0,"d":16.3},{"t":2455.0,"d":16.7},{"t":2455.0,"d":17.1},{"t":2455.0,"d":17.5},{"t":2455.2,"d":16.4},{"t":2455.2,"d":16.8},{"t":2455.2,"d":17.2},{"t":2455.2,"d":17.6},{"t":2455.4,"d":16.5},{"t":2455.4,"d":16.9},{"t":2455.4,"d":17.3},{"t":2455.4,"d":17.7},{"t":2455.6,"d":16.7},{"t":2455.6,"d":17.1},{"t":2455.6,"d":17.5},{"t":2455.6,"d":17.9},{"t":2455.8,"d":17.0},{"t":2455.8,"d":17.4},{"t":2455.8,"d":17.8},{"t":2456.0,"d":17.5},{"t":2456.0,"d":17.9},{"t":2456.0,"d":18.3},{"t":2456.2,"d":18.15},{"t":2456.2,"d":18.5},{"t":2456.4,"d":18.2},{"t":2456.4,"d":18.55},{"t":2456.6,"d":18.2},{"t":2456.6,"d":18.55},{"t":2456.8,"d":18.25},
{"t":2456.1,"d":17.9},{"t":2456.1,"d":18.3},{"t":2456.1,"d":18.6},
{"t":2456.3,"d":18.0},{"t":2456.3,"d":18.35},{"t":2456.3,"d":18.65},
{"t":2456.5,"d":18.05},{"t":2456.5,"d":18.4},{"t":2456.5,"d":18.7},
{"t":2456.7,"d":18.0},{"t":2456.7,"d":18.35},{"t":2456.7,"d":18.65},
{"t":2456.9,"d":18.1},{"t":2456.9,"d":18.45},
{"t":2457.05,"d":17.9},{"t":2457.05,"d":18.25},
{"t":2457.45,"d":18.0},{"t":2457.45,"d":18.3},{"t":2457.55,"d":17.95},{"t":2457.55,"d":18.25},
{"t":2457.6,"d":17.1},{"t":2457.62,"d":17.45},
{"t":2459.64,"d":13.85},{"t":2459.64,"d":14.93},{"t":2459.64,"d":15.53},
{"t":2461.2,"d":18.3},{"t":2461.2,"d":18.6},{"t":2461.2,"d":18.9},
{"t":2461.45,"d":18.25},{"t":2461.45,"d":18.55},{"t":2461.45,"d":18.9},
{"t":2461.7,"d":18.3},{"t":2461.7,"d":18.6},{"t":2461.7,"d":18.85},
{"t":2461.95,"d":18.2},{"t":2461.95,"d":18.55},{"t":2461.95,"d":18.9},
{"t":2462.2,"d":18.35},{"t":2462.2,"d":18.65},{"t":2462.2,"d":18.95},
{"t":2462.45,"d":18.0},{"t":2462.45,"d":18.5},{"t":2462.45,"d":18.85},
{"t":2462.7,"d":18.3},{"t":2462.7,"d":18.6},{"t":2462.7,"d":18.95},
{"t":2462.95,"d":18.25},{"t":2462.95,"d":18.55},{"t":2462.95,"d":18.9},
{"t":2463.2,"d":18.2},{"t":2463.2,"d":18.6},{"t":2463.2,"d":18.85},
{"t":2463.45,"d":18.1},{"t":2463.45,"d":18.5},{"t":2463.45,"d":18.9},
{"t":2463.7,"d":18.3},{"t":2463.7,"d":18.6},{"t":2463.7,"d":18.95},
{"t":2463.95,"d":18.2},{"t":2463.95,"d":18.55},{"t":2463.95,"d":18.9},
{"t":2464.2,"d":18.25},{"t":2464.2,"d":18.6},{"t":2464.2,"d":18.9},
{"t":2464.45,"d":18.3},{"t":2464.45,"d":18.6},{"t":2464.45,"d":18.95},
{"t":2464.7,"d":18.1},{"t":2464.7,"d":18.5},{"t":2464.7,"d":18.9},
{"t":2464.95,"d":18.0},{"t":2464.95,"d":18.45},{"t":2464.95,"d":18.85},
{"t":2465.2,"d":18.2},{"t":2465.2,"d":18.55},{"t":2465.2,"d":18.9},
{"t":2465.45,"d":18.3},{"t":2465.45,"d":18.6},{"t":2465.45,"d":18.95},
{"t":2465.7,"d":18.15},{"t":2465.7,"d":18.55},{"t":2465.7,"d":18.9},
{"t":2465.95,"d":18.2},{"t":2465.95,"d":18.6},{"t":2465.95,"d":18.9},
{"t":2466.2,"d":18.1},{"t":2466.2,"d":18.5},{"t":2466.2,"d":18.85},
{"t":2466.45,"d":18.25},{"t":2466.45,"d":18.6},{"t":2466.45,"d":18.95},
{"t":2466.7,"d":18.2},{"t":2466.7,"d":18.55},{"t":2466.7,"d":18.9},
{"t":2466.95,"d":18.3},{"t":2466.95,"d":18.6},{"t":2466.95,"d":18.9},
{"t":2467.2,"d":18.2},{"t":2467.2,"d":18.55},{"t":2467.2,"d":18.95},
{"t":2467.45,"d":18.15},{"t":2467.45,"d":18.5},{"t":2467.45,"d":18.85},
{"t":2467.7,"d":18.3},{"t":2467.7,"d":18.6},{"t":2467.7,"d":18.9},
{"t":2467.95,"d":18.1},{"t":2467.95,"d":18.5},{"t":2467.95,"d":18.9},
{"t":2468.2,"d":18.25},{"t":2468.2,"d":18.6},{"t":2468.2,"d":18.95},
{"t":2468.45,"d":18.3},{"t":2468.45,"d":18.6},{"t":2468.45,"d":18.9},
{"t":2468.7,"d":18.2},{"t":2468.7,"d":18.55},{"t":2468.7,"d":18.85},
{"t":2468.95,"d":18.15},{"t":2468.95,"d":18.5},{"t":2468.95,"d":18.9},
{"t":2469.2,"d":18.0},{"t":2469.2,"d":18.45},{"t":2469.2,"d":18.85},
{"t":2469.45,"d":18.3},{"t":2469.45,"d":18.6},{"t":2469.45,"d":18.9},
{"t":2469.7,"d":18.2},{"t":2469.7,"d":18.55},{"t":2469.7,"d":18.85},
{"t":2469.95,"d":18.25},{"t":2469.95,"d":18.55},{"t":2469.95,"d":18.8},
{"t":2470.2,"d":18.2},{"t":2470.2,"d":18.5},{"t":2470.2,"d":18.8},
{"t":2470.45,"d":18.1},{"t":2470.45,"d":18.4},{"t":2470.45,"d":18.7},
{"t":2470.7,"d":17.9},{"t":2470.7,"d":18.2},{"t":2470.7,"d":18.5},
{"t":2470.95,"d":17.7},{"t":2470.95,"d":18.0},{"t":2470.95,"d":18.3},
{"t":2471.15,"d":17.3},{"t":2471.15,"d":17.6},{"t":2471.15,"d":18.0},
{"t":2471.3,"d":17.5},{"t":2471.3,"d":17.75},
{"t":2461.325,"d":18.45},{"t":2461.325,"d":18.75},{"t":2461.575,"d":18.4},{"t":2461.575,"d":18.75},{"t":2461.825,"d":18.45},{"t":2461.825,"d":18.75},{"t":2462.075,"d":18.4},{"t":2462.075,"d":18.75},{"t":2462.325,"d":18.5},{"t":2462.325,"d":18.8},{"t":2462.575,"d":18.3},{"t":2462.575,"d":18.7},{"t":2462.825,"d":18.45},{"t":2462.825,"d":18.8},{"t":2463.075,"d":18.4},{"t":2463.075,"d":18.75},{"t":2463.325,"d":18.4},{"t":2463.325,"d":18.75},{"t":2463.575,"d":18.3},{"t":2463.575,"d":18.7},{"t":2463.825,"d":18.45},{"t":2463.825,"d":18.8},{"t":2464.075,"d":18.4},{"t":2464.075,"d":18.75},{"t":2464.325,"d":18.45},{"t":2464.325,"d":18.75},{"t":2464.575,"d":18.45},{"t":2464.575,"d":18.8},{"t":2464.825,"d":18.3},{"t":2464.825,"d":18.7},{"t":2465.075,"d":18.3},{"t":2465.075,"d":18.7},{"t":2465.325,"d":18.4},{"t":2465.325,"d":18.75},{"t":2465.575,"d":18.45},{"t":2465.575,"d":18.8},{"t":2465.825,"d":18.35},{"t":2465.825,"d":18.75},{"t":2466.075,"d":18.4},{"t":2466.075,"d":18.75},{"t":2466.325,"d":18.3},{"t":2466.325,"d":18.7},{"t":2466.575,"d":18.45},{"t":2466.575,"d":18.8},{"t":2466.825,"d":18.4},{"t":2466.825,"d":18.75},{"t":2467.075,"d":18.45},{"t":2467.075,"d":18.75},{"t":2467.325,"d":18.4},{"t":2467.325,"d":18.75},{"t":2467.575,"d":18.35},{"t":2467.575,"d":18.7},{"t":2467.825,"d":18.45},{"t":2467.825,"d":18.75},{"t":2468.075,"d":18.3},{"t":2468.075,"d":18.7},{"t":2468.325,"d":18.45},{"t":2468.325,"d":18.8},{"t":2468.575,"d":18.45},{"t":2468.575,"d":18.75},{"t":2468.825,"d":18.4},{"t":2468.825,"d":18.7},{"t":2469.075,"d":18.3},{"t":2469.075,"d":18.7},{"t":2469.325,"d":18.3},{"t":2469.325,"d":18.7},{"t":2469.575,"d":18.45},{"t":2469.575,"d":18.75},{"t":2469.825,"d":18.4},{"t":2469.825,"d":18.7},{"t":2470.075,"d":18.4},{"t":2470.075,"d":18.7},{"t":2470.325,"d":18.35},{"t":2470.325,"d":18.65},{"t":2470.575,"d":18.05},{"t":2470.575,"d":18.35},{"t":2470.825,"d":17.85},{"t":2470.825,"d":18.15},{"t":2471.05,"d":17.5},{"t":2471.05,"d":17.85}
]
},
"vconcat": [
{
 "width": 496, "height": 122,
 "layer": [
  {"data": {"name": "top"}, "mark": {"type": "circle", "size": 38, "color": "black", "opacity": 1, "clip": true},
   "encoding": {
    "x": {"field": "t", "type": "quantitative", "scale": {"domain": [2446.46, 2474.44], "nice": false, "zero": false}, "axis": null},
    "y": {"field": "m", "type": "quantitative", "scale": {"domain": [10.37, 19.68], "nice": false, "zero": false, "reverse": true}, "axis": {"title": "T mag", "values": [12.5, 15.0, 17.5], "format": ".1f", "titlePadding": 6}}
   }},
  {"data": {"values": [{"t": 2456.84}]}, "mark": {"type": "rule", "color": "#ff0000", "strokeDash": [5.5, 2.5], "strokeWidth": 1.5},
   "encoding": {"x": {"field": "t", "type": "quantitative"}}},
  {"data": {"values": [{"t": 2447.83, "m": 11.2, "label": "s42 cam1ccd3"}]}, "mark": {"type": "text", "fontSize": 16.7, "align": "left", "baseline": "alphabetic", "color": "black", "font": "DejaVu Sans"},
   "encoding": {"x": {"field": "t", "type": "quantitative"}, "y": {"field": "m", "type": "quantitative"}, "text": {"field": "label"}}}
 ]
},
{
 "width": 496, "height": 123,
 "layer": [
  {"data": {"name": "bkg"}, "mark": {"type": "circle", "size": 38, "color": "#ff0000", "opacity": 1, "clip": true},
   "encoding": {
    "x": {"field": "t", "type": "quantitative", "scale": {"domain": [2446.46, 2474.44], "nice": false, "zero": false}, "axis": null},
    "y": {"field": "b", "type": "quantitative", "scale": {"domain": [-35.2, 48.6], "nice": false, "zero": false}, "axis": {"title": ["Bkg (red)/", "bkg_model (purple)"], "values": [-25, 0, 25], "titlePadding": 6}}
   }},
  {"data": {"name": "model"}, "mark": {"type": "line", "color": "#bf00bf", "strokeWidth": 1.5, "clip": true},
   "encoding": {"x": {"field": "t", "type": "quantitative"}, "y": {"field": "v", "type": "quantitative"}}}
 ]
},
{
 "width": 496, "height": 123,
 "data": {"name": "diff"},
 "mark": {"type": "circle", "size": 38, "color": "black", "opacity": 1, "clip": true},
 "encoding": {
  "x": {"field": "t", "type": "quantitative", "scale": {"domain": [2446.46, 2474.44], "nice": false, "zero": false}, "axis": {"title": "BTJD \u22122\u2009457\u2009000", "values": [2450, 2455, 2460, 2465, 2470], "format": "d", "labelPadding": 2, "titlePadding": 5}},
  "y": {"field": "d", "type": "quantitative", "scale": {"domain": [12.2, 19.48], "nice": false, "zero": false, "reverse": true}, "axis": {"title": ["T mag \u2212", "bkg_model"], "values": [14, 16, 18], "titlePadding": 6}}
 }
}
]
}
